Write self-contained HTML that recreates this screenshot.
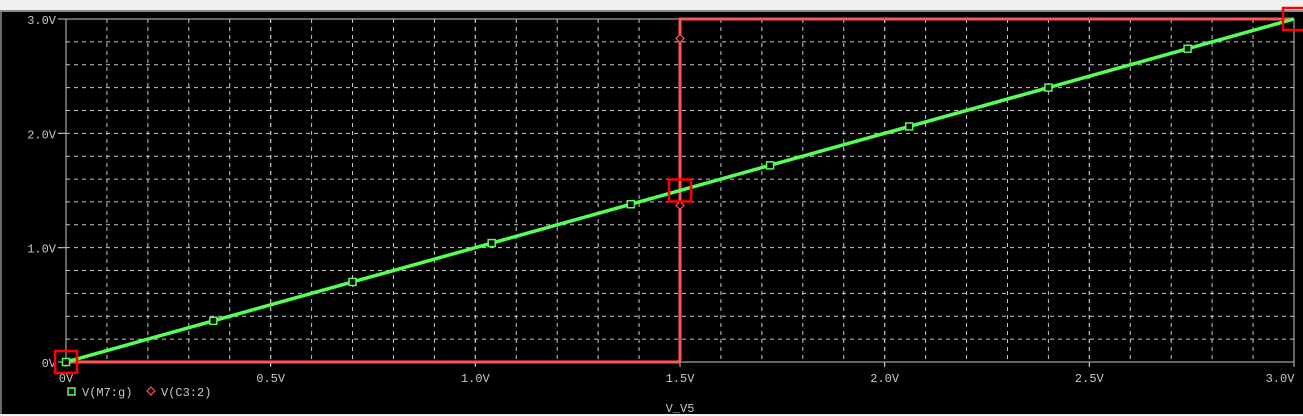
<!DOCTYPE html>
<html><head><meta charset="utf-8"><style>
html,body{margin:0;padding:0;background:#000;width:1303px;height:416px;overflow:hidden}
svg{display:block}
text{font-family:"Liberation Mono",monospace;font-size:12px;fill:#c8c8c8}
</style></head><body>
<svg id="chart" width="1303" height="416">
<rect x="0" y="0" width="1303" height="10" fill="#f0f0f0"/>
<rect x="0" y="10" width="1303" height="2" fill="#8a8a8a"/>
<rect x="0" y="414" width="1303" height="2" fill="#f0f0f0"/>
<rect x="0" y="12" width="2" height="402" fill="#6a6a6a"/>
<g id="grid"></g><g id="axes"></g><g id="series"></g><g id="marks"></g>
<g>
<rect x="68" y="388" width="7" height="7" fill="none" stroke="#55ff55" stroke-width="1.5"/>
<text x="82" y="396">V(M7:g)</text>
<path d="M151 387 L155 391 L151 395 L147 391 Z" fill="none" stroke="#ff5555" stroke-width="1.2"/>
<text x="161" y="396">V(C3:2)</text>
</g>
<text x="680" y="412" text-anchor="middle">V_V5</text>
</svg>
<script>
const xTicks=[0,0.5,1.0,1.5,2.0,2.5,3.0];
const xTickLabels=["0V","0.5V","1.0V","1.5V","2.0V","2.5V","3.0V"];
const yTicks=[0,1,2,3];
const yTickLabels=["0V","1.0V","2.0V","3.0V"];
const greenX=[0,3.0];
const greenY=[0,3.0];
const greenMarkX=[0.0,0.36,0.70,1.04,1.38,1.72,2.06,2.40,2.74];
const redX=[0,1.497,1.5,1.5,3.0];
const redY=[0,0,0.02,3.0,3.0];
const redMarkX=[1.5,1.5];
const redMarkY=[2.83,1.37];
const cursorX=[0,1.5,3.0];
const cursorY=[0,1.5,3.0];
const X0=66,X1=1294,Y0=362,Y1=19;
const sx=v=>X0+(v/3)*(X1-X0);
const sy=v=>Y0-(v/3)*(Y0-Y1);
const NS="http://www.w3.org/2000/svg";
function mk(tag,attrs,parent){const e=document.createElementNS(NS,tag);for(const k in attrs)e.setAttribute(k,attrs[k]);parent.appendChild(e);return e;}
const grid=document.getElementById('grid'),axes=document.getElementById('axes'),series=document.getElementById('series'),marks=document.getElementById('marks');
for(let i=1;i<30;i++){const x=sx(i*0.1);const l=mk('line',{x1:x,x2:x,y1:Y1,y2:Y0,stroke:'#c8c8c8','stroke-dasharray':'4,4','stroke-width':1},grid);

}
for(let i=1;i<15;i++){if(i%5===0)continue;const y=sy(i*0.2);const l=mk('line',{x1:X0,x2:X1,y1:y,y2:y,stroke:'#c8c8c8','stroke-dasharray':'4,4','stroke-width':1},grid);

}
yTicks.forEach((v,i)=>{const y=sy(v);const l=mk('line',{x1:X0-8,x2:X1,y1:y,y2:y,stroke:'#c8c8c8','stroke-dasharray':(i===0||i===3)?'':'4,4','stroke-width':1},axes);
if(i>0&&i<3){mk('line',{x1:X0-8,x2:X0,y1:y,y2:y,stroke:'#c8c8c8'},axes);}


const t=mk('text',{x:X0-10,y:y+5,'text-anchor':'end'},axes);t.textContent=yTickLabels[i];

});
xTicks.forEach((v,i)=>{const x=sx(v);
if(i>0&&i<6){const l=mk('line',{x1:x,x2:x,y1:Y1,y2:Y0+4,stroke:'#c8c8c8','stroke-dasharray':'4,4'},axes);

}
mk('line',{x1:x,x2:x,y1:Y0,y2:Y0+5,stroke:'#c8c8c8'},axes);
const t=mk('text',{x:i===6?x-14:x,y:Y0+20,'text-anchor':'middle'},axes);t.textContent=xTickLabels[i];

});
[X0,X1].forEach(x=>{const l=mk('line',{x1:x,x2:x,y1:Y1,y2:Y0,stroke:'#c8c8c8'},axes);

});
const red=mk('polyline',{points:redX.map((v,i)=>sx(v)+','+sy(redY[i])).join(' '),fill:'none',stroke:'#ff5555','stroke-width':3},series);


const gr=mk('polyline',{points:greenX.map((v,i)=>sx(v)+','+sy(greenY[i])).join(' '),fill:'none',stroke:'#55ff55','stroke-width':3.5},series);


greenMarkX.forEach(v=>{const r=mk('rect',{x:sx(v)-3.5,y:sy(v)-3.5,width:7,height:7,fill:'#000',stroke:'#55ff55','stroke-width':1.5},marks);

});
redMarkX.forEach((v,i)=>{const x=sx(v),y=sy(redMarkY[i]);const p=mk('path',{d:`M${x} ${y-4} L${x+4} ${y} L${x} ${y+4} L${x-4} ${y} Z`,fill:'#000',stroke:'#ff5555','stroke-width':1.2},marks);

});
cursorX.forEach((v,i)=>{const r=mk('rect',{x:sx(v)-11,y:sy(cursorY[i])-11,width:22,height:22,fill:'none',stroke:'#ff0000','stroke-width':2.5},marks);

});
</script>
</body></html>
